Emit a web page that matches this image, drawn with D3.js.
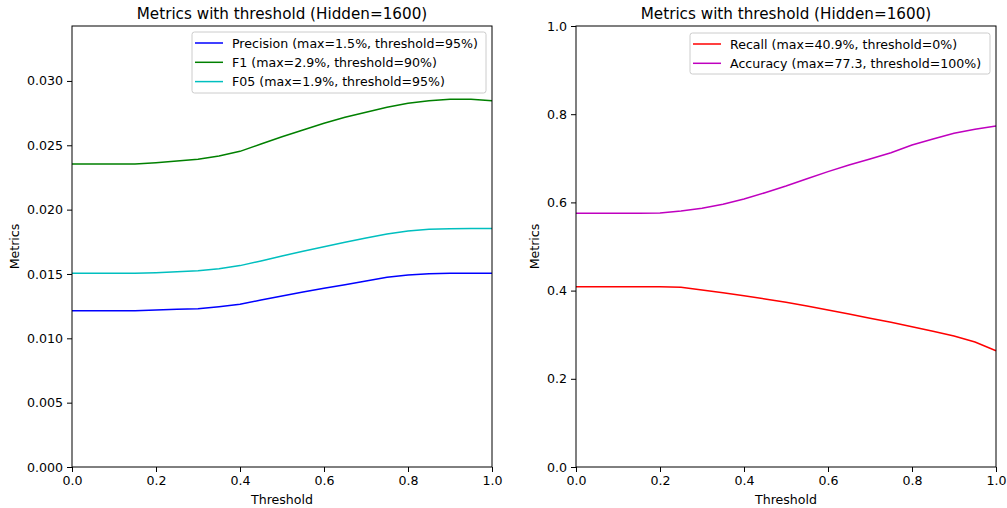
<!DOCTYPE html>
<html><head><meta charset="utf-8">
<script src="https://cdn.jsdelivr.net/npm/d3@7/dist/d3.min.js"></script>
<style>
body{margin:0;background:#fff;}
text{font-family:"DejaVu Sans",sans-serif;fill:#000;}
</style></head>
<body><svg id="c" width="1007" height="508"></svg>
<script>
const thresholds = [0,0.05,0.1,0.15,0.2,0.25,0.3,0.35,0.4,0.45,0.5,0.55,0.6,0.65,0.7,0.75,0.8,0.85,0.9,0.95,1.0];
const precision = [0.01215,0.01215,0.01215,0.01215,0.0122,0.01225,0.0123,0.01246,0.01264,0.01298,0.01329,0.0136,0.01389,0.01417,0.01446,0.01474,0.01492,0.01502,0.01505,0.01505,0.01505];
const f1 = [0.02355,0.02355,0.02355,0.02355,0.02365,0.02378,0.02391,0.02417,0.02453,0.0251,0.02567,0.02619,0.02671,0.02718,0.02757,0.02796,0.02827,0.02847,0.02858,0.02858,0.02847];
const f05 = [0.01505,0.01505,0.01505,0.01505,0.0151,0.01518,0.01526,0.01541,0.01565,0.01601,0.0164,0.01676,0.01712,0.01746,0.0178,0.01811,0.01834,0.01847,0.01852,0.01854,0.01854];
const recall = [0.4089,0.4089,0.4089,0.4089,0.4089,0.4074,0.4014,0.3953,0.3885,0.381,0.3734,0.3651,0.356,0.3469,0.3371,0.3281,0.3182,0.3077,0.297,0.2834,0.2637];
const accuracy = [0.5752,0.5752,0.5752,0.5752,0.576,0.5805,0.5865,0.5956,0.6077,0.622,0.6372,0.6538,0.6697,0.6848,0.6984,0.7127,0.730,0.7438,0.7566,0.7657,0.773];
const titleText = "Metrics with threshold (Hidden=1600)";
const leftLabels = ["Precision (max=1.5%, threshold=95%)","F1 (max=2.9%, threshold=90%)","F05 (max=1.9%, threshold=95%)"];
const rightLabels = ["Recall (max=40.9%, threshold=0%)","Accuracy (max=77.3, threshold=100%)"];
const leftYTicks = [0,0.005,0.01,0.015,0.02,0.025,0.03];
const rightYTicks = [0,0.2,0.4,0.6,0.8,1.0];
const xTicks = [0,0.2,0.4,0.6,0.8,1.0];

const svg = d3.select("#c");
const axTop = 26, axBottom = 467;
const fs = "12.6px", tfs = "15.2px";

function panel(x0, x1, yMax, yTicks, yFmt, series, labels, colors, legendBox, labelX) {
  const g = svg.append("g");
  const x = d3.scaleLinear().domain([0,1]).range([x0,x1]);
  const y = d3.scaleLinear().domain([0,yMax]).range([axBottom,axTop]);
  const line = d3.line().x((d,i)=>x(thresholds[i])).y(d=>y(d));
  series.forEach((s,k)=>{
    g.append("path").attr("d",line(s)).attr("fill","none").attr("stroke",colors[k]).attr("stroke-width",1.5);
  });
  g.append("rect").attr("x",x0).attr("y",axTop).attr("width",x1-x0).attr("height",axBottom-axTop)
    .attr("fill","none").attr("stroke","#000").attr("stroke-width",1);
  const xa = g.append("g").attr("transform",`translate(0,${axBottom})`)
    .call(d3.axisBottom(x).tickValues(xTicks).tickFormat(d3.format(".1f")).tickSize(5).tickPadding(4));
  const ya = g.append("g").attr("transform",`translate(${x0},0)`)
    .call(d3.axisLeft(y).tickValues(yTicks).tickFormat(yFmt).tickSize(5).tickPadding(4));
  [xa,ya].forEach(a=>{
    a.select(".domain").remove();
    a.selectAll("text").attr("font-size",fs).attr("font-family","DejaVu Sans").attr("fill","#000");
    a.selectAll("line").attr("stroke","#000");
  });
  g.append("text").attr("x",(x0+x1)/2).attr("y",19).attr("text-anchor","middle").attr("font-size",tfs).text(titleText);
  g.append("text").attr("x",(x0+x1)/2).attr("y",504).attr("text-anchor","middle").attr("font-size",fs).text("Threshold");
  g.append("text").attr("transform",`translate(${labelX},${(axTop+axBottom)/2}) rotate(-90)`).attr("text-anchor","middle").attr("font-size",fs).text("Metrics");
  const lb = legendBox;
  g.append("rect").attr("x",lb.x).attr("y",lb.y).attr("width",lb.w).attr("height",lb.h).attr("rx",2.5)
    .attr("fill","#fff").attr("fill-opacity",0.8).attr("stroke","#ccc").attr("stroke-width",1);
  labels.forEach((t,k)=>{
    const yy = lb.y + 11 + k*19.3;
    g.append("line").attr("x1",lb.x+3).attr("x2",lb.x+31).attr("y1",yy).attr("y2",yy).attr("stroke",colors[k]).attr("stroke-width",1.5);
    g.append("text").attr("x",lb.x+40).attr("y",yy+4.5).attr("font-size",fs).text(t);
  });
}

panel(72,492,0.03427,leftYTicks,d3.format(".3f"),[precision,f1,f05],leftLabels,["#0000ff","#008000","#00bfbf"],{x:192,y:32,w:294,h:61},19);
panel(576,996,1.0,rightYTicks,d3.format(".1f"),[recall,accuracy],rightLabels,["#ff0000","#bf00bf"],{x:690,y:33,w:300,h:41},539);
</script></body></html>
